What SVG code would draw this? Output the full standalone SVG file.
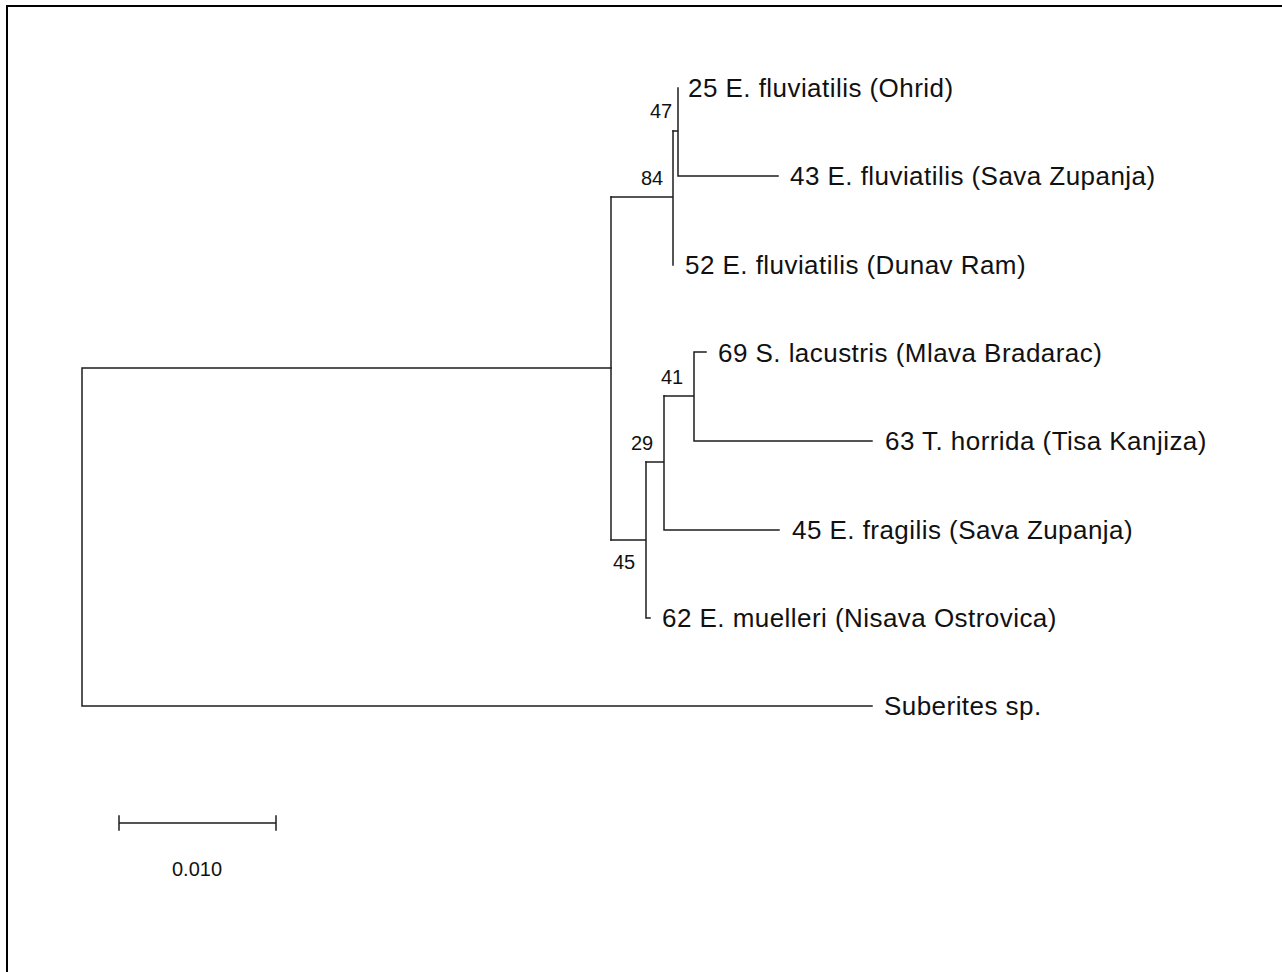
<svg xmlns="http://www.w3.org/2000/svg" width="1282" height="972" viewBox="0 0 1282 972">
<style>
.br{fill:none;stroke:#1e1e1e;stroke-width:1.5;stroke-linecap:square}
.lf{font-family:"Liberation Sans",Arial,sans-serif;font-size:26px;letter-spacing:0.45px;fill:#111}
.bs{font-family:"Liberation Sans",Arial,sans-serif;font-size:20px;fill:#111}
</style>
<rect width="1282" height="972" fill="#fff"/>
<path d="M7,972 V6 H1282" fill="none" stroke="#000" stroke-width="2"/>
<g id="connectors">
<path class="br" d="M82,368 H611 M82,368 V706 H872"/>
<path class="br" d="M611,197 V540"/>
<path class="br" d="M611,197 H673 M673,131 V265"/>
<path class="br" d="M673,131 H678 M678,88 V176 H778"/>
<path class="br" d="M611,540 H646 M646,462 V618 H650"/>
<path class="br" d="M646,462 H664 M664,396 V530 H779"/>
<path class="br" d="M664,396 H694 M694,352 V441 H872 M694,352 H706"/>
</g>
<g id="leaf-ohrid"><text class="lf" x="688" y="97">25 E. fluviatilis (Ohrid)</text></g>
<g id="leaf-sava43"><text class="lf" x="790" y="185">43 E. fluviatilis (Sava Zupanja)</text></g>
<g id="leaf-dunav"><text class="lf" x="685" y="274">52 E. fluviatilis (Dunav Ram)</text></g>
<g id="leaf-mlava"><text class="lf" x="718" y="362">69 S. lacustris (Mlava Bradarac)</text></g>
<g id="leaf-tisa"><text class="lf" x="885" y="450">63 T. horrida (Tisa Kanjiza)</text></g>
<g id="leaf-fragilis"><text class="lf" x="792" y="539">45 E. fragilis (Sava Zupanja)</text></g>
<g id="leaf-muelleri"><text class="lf" x="662" y="627">62 E. muelleri (Nisava Ostrovica)</text></g>
<g id="leaf-suberites"><text class="lf" x="884" y="715">Suberites sp.</text></g>
<g id="bootstrap">
<text class="bs" x="650" y="118">47</text>
<text class="bs" x="641" y="185">84</text>
<text class="bs" x="661" y="384">41</text>
<text class="bs" x="631" y="450">29</text>
<text class="bs" x="613" y="569">45</text>
</g>
<g id="scalebar">
<path class="br" d="M119,823 H276 M119,816 V830 M276,816 V830"/>
<text class="bs" x="197" y="876" text-anchor="middle">0.010</text>
</g>
</svg>
